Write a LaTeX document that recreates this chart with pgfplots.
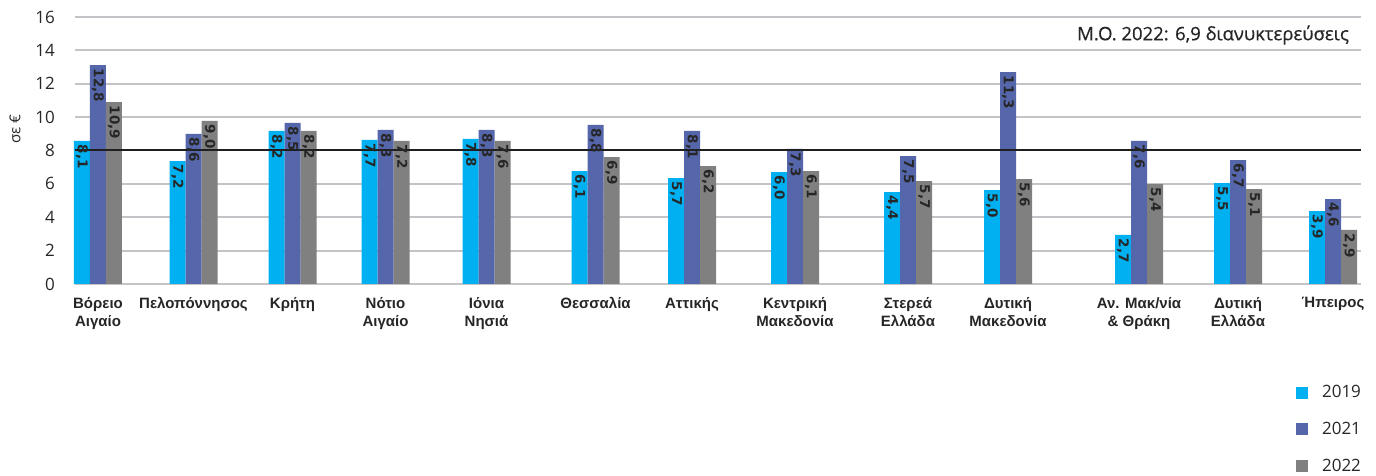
\documentclass[border=0pt]{standalone}
\usepackage{pgfplots}
\pgfplotsset{compat=1.18}
\usepackage{pgfplotstable}
\usepackage{fontspec}
\setmainfont{Open Sans}
\newfontfamily\lblfont{DejaVu Sans}
\newfontfamily\xfont{Liberation Sans}
\newfontfamily\titlefont{Open Sans}[FakeBold=0.6]
\definecolor{c19}{HTML}{00B0F0}
\definecolor{c21}{HTML}{5566AA}
\definecolor{c22}{HTML}{808080}
\definecolor{gridc}{HTML}{C4C4C8}
\definecolor{txt}{HTML}{262626}

\pgfplotstableread{
pos y19 y21 y22 l19 l21 l22
98 8.57 13.12 10.90 8,1 12,8 10,9
193.5 7.37 8.99 9.77 7,2 8,6 9,0
292.5 9.17 9.65 9.17 8,2 8,5 8,2
385.5 8.63 9.23 8.57 7,7 8,3 7,2
486.5 8.69 9.23 8.57 7,8 8,3 7,6
595.5 6.77 9.53 7.61 6,1 8,8 6,9
692 6.35 9.17 7.07 5,7 8,1 6,2
795 6.71 8.09 6.77 6,0 7,3 6,1
908 5.51 7.67 6.17 4,4 7,5 5,7
1008 5.63 12.70 6.29 5,0 11,3 5,6
1139 2.94 8.57 5.99 2,7 7,6 5,4
1238 6.05 7.43 5.69 5,5 6,7 5,1
1333 4.37 5.09 3.24 3,9 4,6 2,9
}\datatable

\begin{document}
\begin{tikzpicture}
\begin{axis}[
  scale only axis, width=1286pt, height=267pt,
  xmin=75, xmax=1361, ymin=0, ymax=16,
  ytick={0,2,4,6,8,10,12,14,16},
  xtick={98,193.5,292.5,385.5,486.5,595.5,692,795,908,1008,1139,1238,1333},
  xticklabels={{Βόρειο\\Αιγαίο},Πελοπόννησος,Κρήτη,{Νότιο\\Αιγαίο},{Ιόνια\\Νησιά},Θεσσαλία,Αττικής,{Κεντρική\\Μακεδονία},{Στερεά\\Ελλάδα},{Δυτική\\Μακεδονία},{Αν. Μακ/νία\\\& Θράκη},{Δυτική\\Ελλάδα},Ήπειρος},
  xticklabel style={align=center, anchor=north, inner sep=0pt, yshift=-13pt, font=\xfont\bfseries\fontsize{15}{18}\selectfont, text=txt},
  yticklabel style={anchor=east, inner sep=0pt, xshift=-20pt, font=\fontsize{17}{17}\selectfont, text=txt},
  /pgf/number format/assume math mode=true,
  axis line style={draw=none},
  major tick length=0pt,
  ymajorgrids, grid style={gridc, line width=2pt},
  ybar, bar width=16,
  clip=false,
  every axis y label/.style={at={(rel axis cs:-0.0467,0.58)}, rotate=90, anchor=center, font=\fontsize{15}{15}\selectfont, text=txt},
  ylabel={σε €},
  legend style={at={(rel axis cs:1.004,-0.365)}, anchor=north east, draw=none, fill=none,
    font=\fontsize{17}{17}\selectfont, row sep=19pt, text=txt,
    /tikz/every odd column/.append style={column sep=12pt}},
  legend cell align=left,
  legend image code/.code={\fill[#1, draw=none] (0pt,-6pt) rectangle (12pt,6pt);},
  every node near coord/.append style={font=\lblfont\bfseries\fontsize{13.5}{13.5}\selectfont, text=txt, yshift=-3pt, rotate=-90, anchor=west, inner sep=0.5pt},
]
\addplot[fill=c19, draw=none, bar shift=0pt, nodes near coords, point meta=explicit symbolic]
  table[x expr=\thisrow{pos}-16, y=y19, meta=l19] {\datatable};
\addplot[fill=c21, draw=none, bar shift=0pt, nodes near coords, point meta=explicit symbolic]
  table[x=pos, y=y21, meta=l21] {\datatable};
\addplot[fill=c22, draw=none, bar shift=0pt, nodes near coords, point meta=explicit symbolic]
  table[x expr=\thisrow{pos}+16, y=y22, meta=l22] {\datatable};
\legend{2019,2021,2022}
\addplot[sharp plot, draw=black!88, line width=2pt, forget plot, no markers] coordinates {(75,8) (1361,8)};
\node[anchor=east, font=\titlefont\fontsize{18.5}{18.5}\selectfont, text=txt, inner sep=0pt] at (rel axis cs:0.9907,0.9326) {Μ.Ο. 2022: 6,9 διανυκτερεύσεις};
\end{axis}
\pgfresetboundingbox
\path (-75pt,-192pt) rectangle (1301pt,284pt);
\end{tikzpicture}
\end{document}
